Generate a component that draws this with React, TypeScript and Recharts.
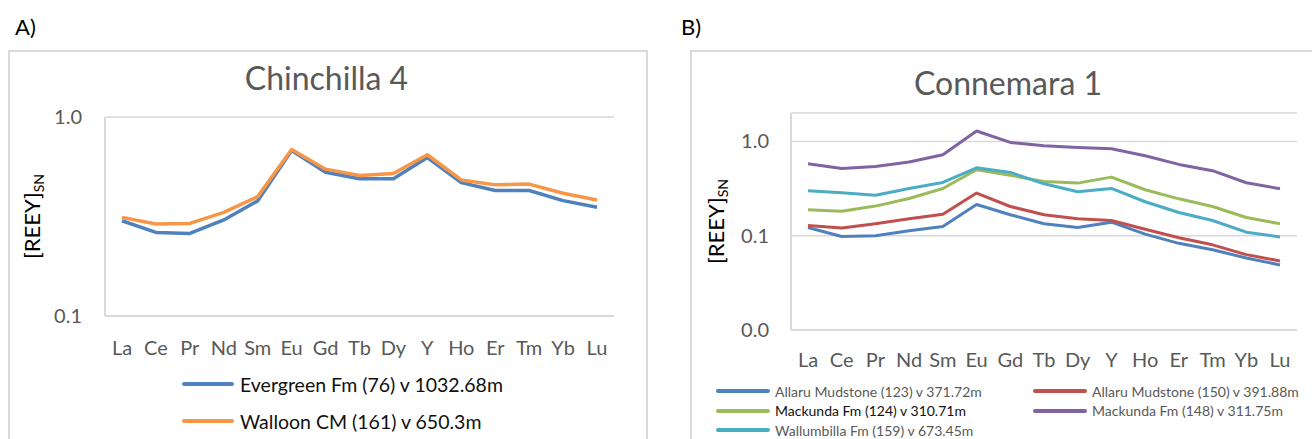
import React from 'react';
import { LineChart, Line, XAxis, YAxis, CartesianGrid, Legend } from 'recharts';

// ---------- data ----------
const elements = ['La', 'Ce', 'Pr', 'Nd', 'Sm', 'Eu', 'Gd', 'Tb', 'Dy', 'Y', 'Ho', 'Er', 'Tm', 'Yb', 'Lu'];

// Panel A: Chinchilla 4
const evergreen76 = [0.301, 0.263, 0.26, 0.304, 0.379, 0.679, 0.528, 0.489, 0.49, 0.626, 0.468, 0.427, 0.427, 0.38, 0.352];
const walloon161 = [0.313, 0.29, 0.292, 0.332, 0.398, 0.687, 0.547, 0.508, 0.52, 0.646, 0.483, 0.456, 0.46, 0.414, 0.383];

// Panel B: Connemara 1
const allaru123 = [0.122, 0.098, 0.1, 0.113, 0.125, 0.214, 0.167, 0.134, 0.122, 0.139, 0.104, 0.083, 0.071, 0.058, 0.049];
const allaru150 = [0.128, 0.121, 0.134, 0.151, 0.169, 0.283, 0.204, 0.167, 0.151, 0.145, 0.117, 0.095, 0.08, 0.063, 0.054];
const mackunda124 = [0.188, 0.182, 0.206, 0.248, 0.317, 0.5, 0.436, 0.376, 0.361, 0.418, 0.307, 0.246, 0.204, 0.156, 0.134];
const mackunda148 = [0.579, 0.517, 0.543, 0.604, 0.722, 1.288, 0.976, 0.899, 0.863, 0.836, 0.704, 0.57, 0.489, 0.364, 0.315];
const wallumbilla159 = [0.299, 0.285, 0.269, 0.317, 0.367, 0.525, 0.469, 0.355, 0.292, 0.317, 0.229, 0.176, 0.145, 0.109, 0.097];

const namesA = ['Evergreen Fm (76) v 1032.68m', 'Walloon CM (161) v 650.3m'];
const namesB = [
  'Allaru Mudstone (123) v 371.72m',
  'Allaru Mudstone (150) v 391.88m',
  'Mackunda Fm (124) v 310.71m',
  'Mackunda Fm (148) v 311.75m',
  'Wallumbilla Fm (159) v 673.45m',
];

const ticksA = [0.1, 1];
const domainA = [0.1, 1];
const ticksB = [0.01, 0.1, 1];
const domainB = [0.01, 2];

const titleA = 'Chinchilla 4';
const titleB = 'Connemara 1';

// ---------- tables built from the arrays ----------
const dataA = elements.map((el, i) => ({ el, s0: evergreen76[i], s1: walloon161[i] }));
const seriesB = [allaru123, allaru150, mackunda124, mackunda148, wallumbilla159];
const dataB = elements.map((el, i) => {
  const row: any = { el };
  seriesB.forEach((s, k) => (row['s' + k] = s[i]));
  return row;
});

// ---------- styles ----------
const FONT = "Lato, 'Noto Sans', sans-serif";
const GRID = '#d9d9d9';
const TXT = '#595959';
const colorsA = ['#4F81BD', '#F79646'];
const colorsB = ['#4F81BD', '#C0504D', '#9BBB59', '#8064A2', '#4BACC6'];

const fmt = (v: number) => v.toFixed(1);

const makeYLabel = (bx: number) => (props: any) => {
  const vb = props.viewBox || {};
  const cx = (vb.x || 0) + bx;
  const cy = (vb.y || 0) + (vb.height || 0) / 2;
  return (
    <text
      transform={`translate(${cx},${cy}) rotate(-90)`}
      textAnchor="middle"
      fontFamily={FONT}
      fontSize={22}
      fill="#000"
    >
      [REEY]
      <tspan dy={4} fontSize={14}>SN</tspan>
    </text>
  );
};

const legendA = (props: any) => {
  const payload = props.payload || [];
  return (
    <div style={{ position: 'relative', width: 660, height: 439, fontFamily: FONT }}>
      {payload.map((p: any, i: number) => (
        <div key={i} style={{ position: 'absolute', left: 182, top: 384 + i * 37 - 12, height: 24, display: 'flex', alignItems: 'center', whiteSpace: 'nowrap' }}>
          <div style={{ width: 52, height: 4, background: p.color, borderRadius: 2 }} />
          <span style={{ marginLeft: 6, fontSize: 19.5, color: '#111' }}>{p.value}</span>
        </div>
      ))}
    </div>
  );
};

const legendB = (props: any) => {
  const payload = props.payload || [];
  return (
    <div style={{ position: 'relative', width: 652, height: 439, fontFamily: FONT }}>
      {payload.map((p: any, i: number) => {
        const col = i % 2;
        const row = Math.floor(i / 2);
        return (
          <div key={i} style={{ position: 'absolute', left: col === 0 ? 56 : 373, top: 391 + row * 19.7 - 10, height: 20, display: 'flex', alignItems: 'center', whiteSpace: 'nowrap' }}>
            <div style={{ width: 54, height: 4, background: p.color, borderRadius: 2 }} />
            <span style={{ marginLeft: 5, fontSize: 14, color: i === 2 ? '#111' : TXT }}>{p.value}</span>
          </div>
        );
      })}
    </div>
  );
};

const abs = (s: React.CSSProperties): React.CSSProperties => ({ position: 'absolute', ...s });

export default function App() {
  return (
    <div style={abs({ left: 0, top: 0, width: 1312, height: 439, overflow: 'hidden', background: '#fff', fontFamily: FONT })}>
      {/* panel frames */}
      <div style={abs({ left: 8, top: 50, width: 636, height: 420, border: `2px solid ${GRID}` })} />
      <div style={abs({ left: 690, top: 50, width: 660, height: 420, border: `2px solid ${GRID}` })} />
      <div style={abs({ left: 15, top: 14, fontSize: 22, color: '#000', lineHeight: '26px' })}>A)</div>
      <div style={abs({ left: 681, top: 14, fontSize: 22, color: '#000', lineHeight: '26px' })}>B)</div>
      <div style={abs({ left: 8, width: 637, top: 58, textAlign: 'center', fontSize: 32, color: TXT, lineHeight: '40px' })}>{titleA}</div>
      <div style={abs({ left: 690, width: 636, top: 63, textAlign: 'center', fontSize: 32, color: TXT, lineHeight: '40px' })}>{titleB}</div>

      {/* Panel A */}
      <div style={abs({ left: 0, top: 0 })}>
        <LineChart width={660} height={439} data={dataA} margin={{ top: 117, right: 46, bottom: 93, left: 0 }}>
          <CartesianGrid vertical={false} stroke={GRID} strokeWidth={1.5} />
          <XAxis
            dataKey="el"
            height={30}
            padding={{ left: 17, right: 17 }}
            tickLine={false}
            axisLine={{ stroke: GRID, strokeWidth: 2 }}
            tickMargin={19}
            interval={0}
            tick={{ fill: TXT, fontSize: 20, fontFamily: FONT }}
          />
          <YAxis
            scale="log"
            domain={domainA}
            ticks={ticksA}
            allowDataOverflow
            width={105}
            tickFormatter={fmt}
            tickLine={false}
            axisLine={{ stroke: GRID, strokeWidth: 2 }}
            tickMargin={17}
            tick={{ fill: TXT, fontSize: 20, fontFamily: FONT }}
            label={{ content: makeYLabel(40) } as any}
          />
          <Legend
            layout="horizontal"
            verticalAlign="middle"
            align="center"
            wrapperStyle={{ left: 0, top: 0, width: 660, height: 439 }}
            content={legendA}
          />
          {[evergreen76, walloon161].map((_, k) => (
            <Line
              key={k}
              type="linear"
              dataKey={'s' + k}
              name={namesA[k]}
              stroke={colorsA[k]}
              strokeWidth={3.5}
              strokeLinejoin="round"
              dot={false}
              isAnimationActive={false}
            />
          ))}
        </LineChart>
      </div>

      {/* Panel B */}
      <div style={abs({ left: 660, top: 0 })}>
        <LineChart width={652} height={439} data={dataB} margin={{ top: 113, right: 15, bottom: 79, left: 0 }}>
          <CartesianGrid vertical={false} stroke={GRID} strokeWidth={1.5} />
          <XAxis
            dataKey="el"
            height={30}
            padding={{ left: 17, right: 17 }}
            tickLine={false}
            axisLine={{ stroke: GRID, strokeWidth: 2 }}
            tickMargin={17}
            interval={0}
            tick={{ fill: TXT, fontSize: 20, fontFamily: FONT }}
          />
          <YAxis
            scale="log"
            domain={domainB}
            ticks={ticksB}
            allowDataOverflow
            width={131}
            tickFormatter={fmt}
            tickLine={false}
            axisLine={{ stroke: GRID, strokeWidth: 2 }}
            tickMargin={16}
            tick={{ fill: TXT, fontSize: 20, fontFamily: FONT }}
            label={{ content: makeYLabel(64) } as any}
          />
          <Legend
            layout="horizontal"
            verticalAlign="middle"
            align="center"
            wrapperStyle={{ left: 0, top: 0, width: 652, height: 439 }}
            content={legendB}
          />
          {seriesB.map((_, k) => (
            <Line
              key={k}
              type="linear"
              dataKey={'s' + k}
              name={namesB[k]}
              stroke={colorsB[k]}
              strokeWidth={3}
              strokeLinejoin="round"
              dot={false}
              isAnimationActive={false}
            />
          ))}
        </LineChart>
      </div>
    </div>
  );
}
